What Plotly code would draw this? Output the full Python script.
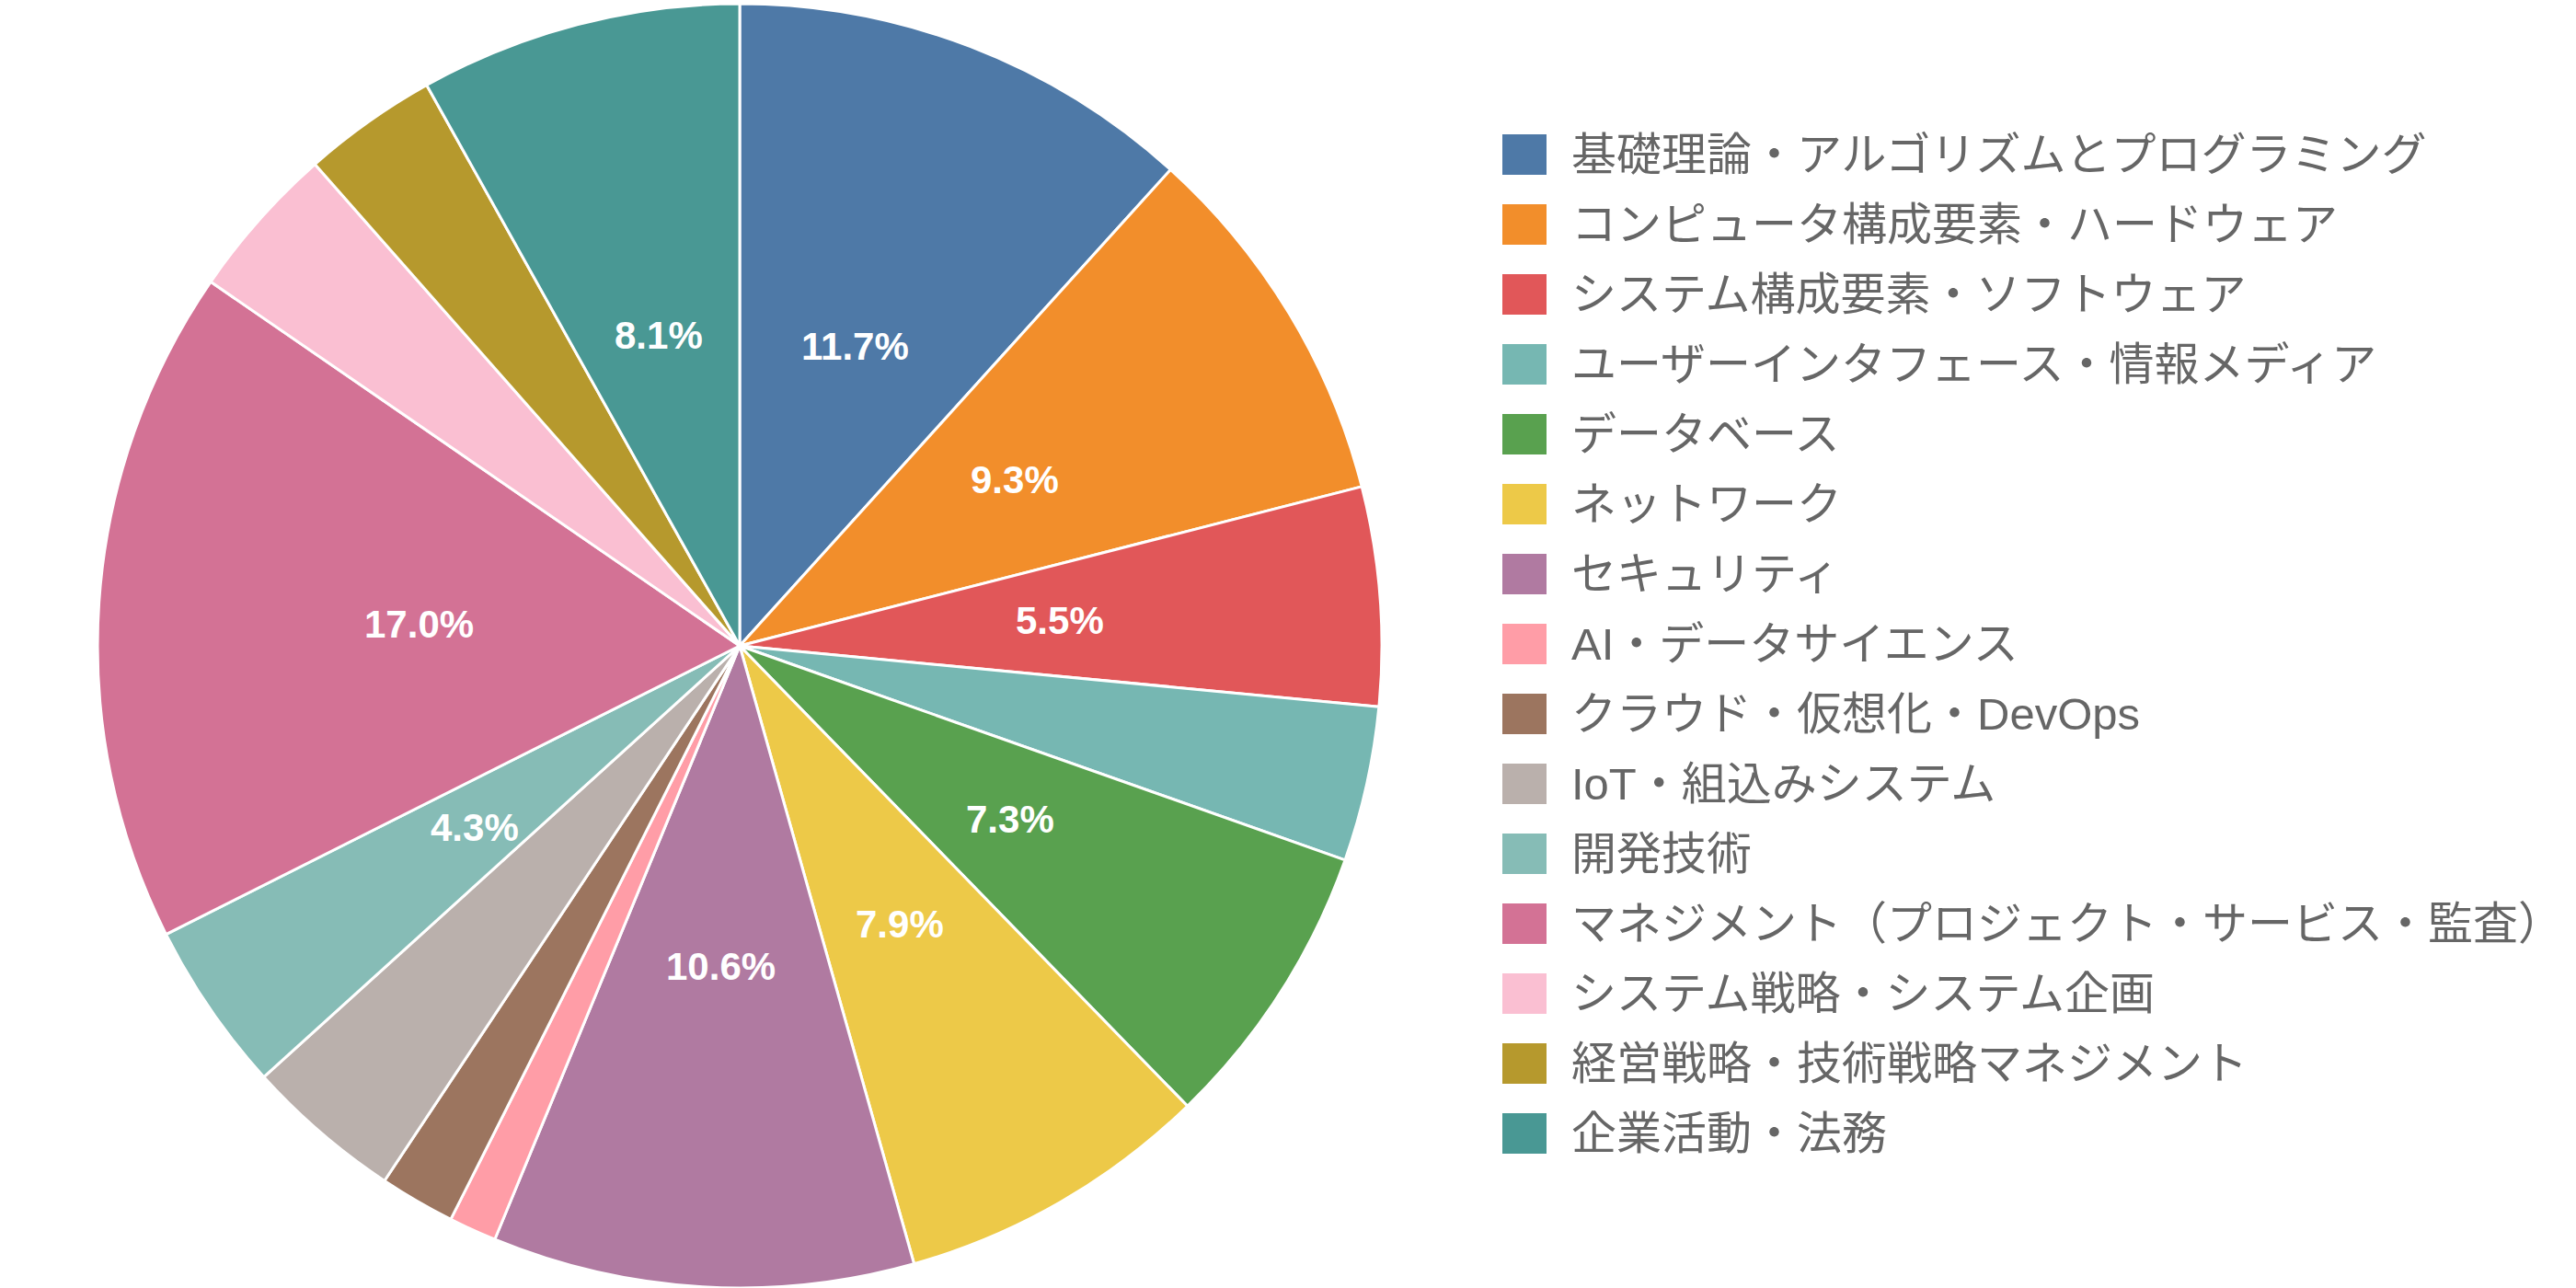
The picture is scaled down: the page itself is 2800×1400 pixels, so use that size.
import math
import plotly.graph_objects as go

categories = [
    "基礎理論・アルゴリズムとプログラミング",
    "コンピュータ構成要素・ハードウェア",
    "システム構成要素・ソフトウェア",
    "ユーザーインタフェース・情報メディア",
    "データベース",
    "ネットワーク",
    "セキュリティ",
    "AI・データサイエンス",
    "クラウド・仮想化・DevOps",
    "IoT・組込みシステム",
    "開発技術",
    "マネジメント（プロジェクト・サービス・監査）",
    "システム戦略・システム企画",
    "経営戦略・技術戦略マネジメント",
    "企業活動・法務",
]
shares = [11.7, 9.3, 5.5, 3.9, 7.3, 7.9, 10.6, 1.2, 1.9, 3.95, 4.3, 17.0, 3.9, 3.4, 8.1]
colors = [
    "#4E79A7", "#F28E2B", "#E15759", "#76B7B2", "#59A14F",
    "#EDC948", "#B07AA1", "#FF9DA7", "#9C755F", "#BAB0AC",
    "#86BCB6", "#D37295", "#FABFD2", "#B6992D", "#499894",
]

# ---- layout geometry (pixels) ----
W, H = 2800, 1400
TOP = 4
PIE_DOMAIN_X = [0, 0.5743]
LABEL_MIN_PCT = 4.2
LEGEND_X = 1633
LEGEND_Y0 = 168
LEGEND_STEP = 76
SW_W, SW_H = 48, 44
LEGEND_TEXT_X = 1706

plot_h = H - TOP
cx_px = W * (PIE_DOMAIN_X[0] + PIE_DOMAIN_X[1]) / 2
cy_px = TOP + plot_h / 2
radius = min(W * (PIE_DOMAIN_X[1] - PIE_DOMAIN_X[0]), plot_h) / 2


def px_to_paper(x, y):
    return x / W, (H - y) / plot_h


fig = go.Figure(
    go.Pie(
        labels=categories,
        values=shares,
        sort=False,
        direction="clockwise",
        rotation=0,
        marker=dict(colors=colors, line=dict(color="white", width=3)),
        textinfo="none",
        domain=dict(x=PIE_DOMAIN_X, y=[0, 1]),
        hoverinfo="label+percent",
        showlegend=False,
    )
)

annotations = []
shapes = []

# percentage labels at half radius
total = sum(shares)
cum = 0.0
for v in shares:
    pct = v / total * 100
    theta = 2 * math.pi * (cum + v / 2) / total
    cum += v
    if pct < LABEL_MIN_PCT:
        continue
    x = cx_px + 0.5 * radius * math.sin(theta)
    y = cy_px - 0.5 * radius * math.cos(theta)
    px, py = px_to_paper(x, y)
    annotations.append(dict(
        x=px, y=py, xref="paper", yref="paper",
        text=f"<b>{pct:.1f}%</b>", showarrow=False,
        xanchor="center", yanchor="middle",
        font=dict(family="Liberation Sans, Arial, sans-serif", size=42, color="white"),
    ))

# legend
for i, (name, col) in enumerate(zip(categories, colors)):
    yc = LEGEND_Y0 + i * LEGEND_STEP
    x0, y0 = px_to_paper(LEGEND_X, yc + SW_H / 2)
    x1, y1 = px_to_paper(LEGEND_X + SW_W, yc - SW_H / 2)
    shapes.append(dict(type="rect", xref="paper", yref="paper",
                       x0=x0, y0=y0, x1=x1, y1=y1,
                       fillcolor=col, line=dict(width=0)))
    tx, ty = px_to_paper(LEGEND_TEXT_X, yc)
    annotations.append(dict(
        x=tx, y=ty, xref="paper", yref="paper",
        text=name, showarrow=False,
        xanchor="left", yanchor="middle",
        font=dict(family="Liberation Sans, Noto Sans CJK JP, sans-serif", size=49, color="#666666"),
    ))

fig.update_layout(
    width=W,
    height=H,
    margin=dict(l=0, r=0, t=TOP, b=0),
    paper_bgcolor="white",
    plot_bgcolor="white",
    showlegend=False,
    annotations=annotations,
    shapes=shapes,
    font=dict(family="Liberation Sans, Noto Sans CJK JP, sans-serif"),
)

fig.write_html("out.html")
